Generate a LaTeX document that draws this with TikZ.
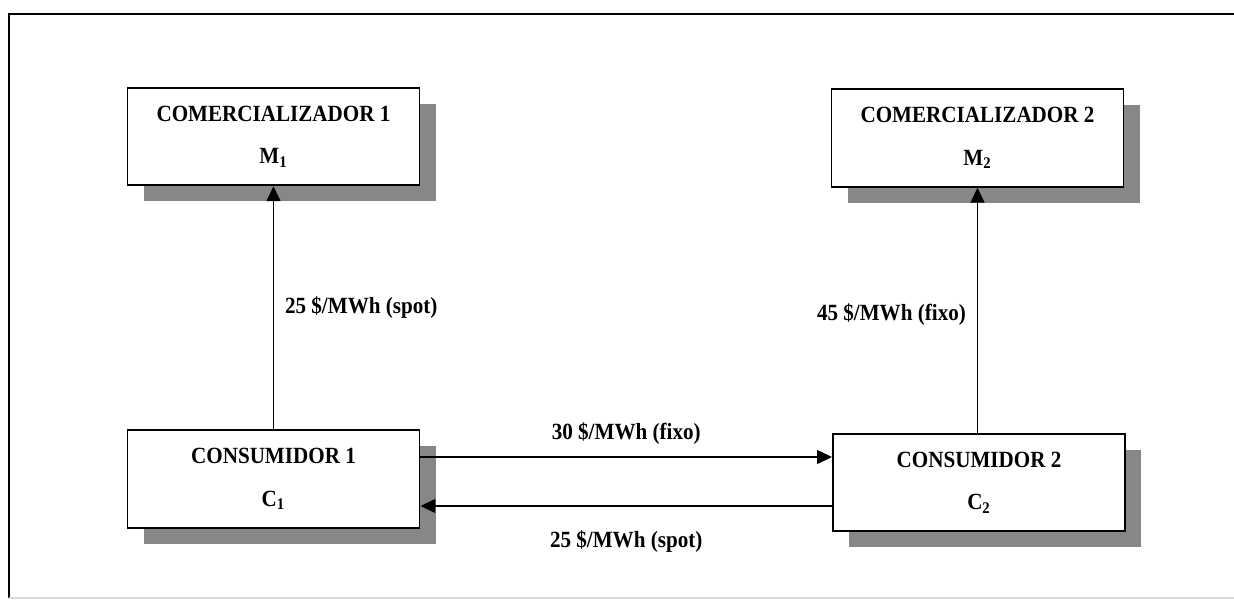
\documentclass[tikz,border=0pt]{standalone}
\usepackage{fontspec}
\setmainfont[FakeStretch=0.91]{Liberation Serif}
\usetikzlibrary{arrows.meta,shadows}
\begin{document}
\begin{tikzpicture}
\tikzset{
    mktBox/.style={rectangle,draw=black,line width=1.1pt,fill=white,minimum width=5.84cm,minimum height=1.95cm,align=center,font=\bfseries\fontsize{13.2}{24}\selectfont,drop shadow={shadow xshift=0.32cm,shadow yshift=-0.32cm,fill=black!47,opacity=1}},
    mktFlow/.style={line width=0.8pt,-{Triangle[length=0.3cm,width=0.28cm]}},
    mktPrice/.style={font=\bfseries\fontsize{13.2}{15}\selectfont},
}
\useasboundingbox (0,0) rectangle (24.68,-12);
% moldura
\draw[line width=1pt] (24.68,-0.28) -- (0.18,-0.28) -- (0.18,-11.96);
\draw[line width=1pt,black!15] (0.18,-11.96) -- (24.68,-11.96);

\node[mktBox] (m1) at (5.47,-2.73) {COMERCIALIZADOR 1\\M\textsubscript{1}};
\node[mktBox] (m2) at (19.55,-2.76) {COMERCIALIZADOR 2\\M\textsubscript{2}};
\node[mktBox] (c1) at (5.47,-9.58) {CONSUMIDOR 1\\C\textsubscript{1}};
\node[mktBox] (c2) at (19.58,-9.65) {CONSUMIDOR 2\\C\textsubscript{2}};

\coordinate (fixoY) at (0,-9.14);
\coordinate (spotY) at (0,-10.12);

\draw[mktFlow] (c1.north) -- node[mktPrice,right=0.1cm] {25 \$/MWh (spot)} (m1.south);
\draw[mktFlow] (c2.north -| m2.south) -- node[mktPrice,left=0.1cm,yshift=-0.08cm] {45 \$/MWh (fixo)} (m2.south);
\draw[mktFlow] (c1.east |- fixoY) -- node[mktPrice,above=0.12cm] {30 \$/MWh (fixo)} (c2.west |- fixoY);
\draw[mktFlow] (c2.west |- spotY) -- node[mktPrice,below=0.36cm] {25 \$/MWh (spot)} (c1.east |- spotY);
\end{tikzpicture}
\end{document}
